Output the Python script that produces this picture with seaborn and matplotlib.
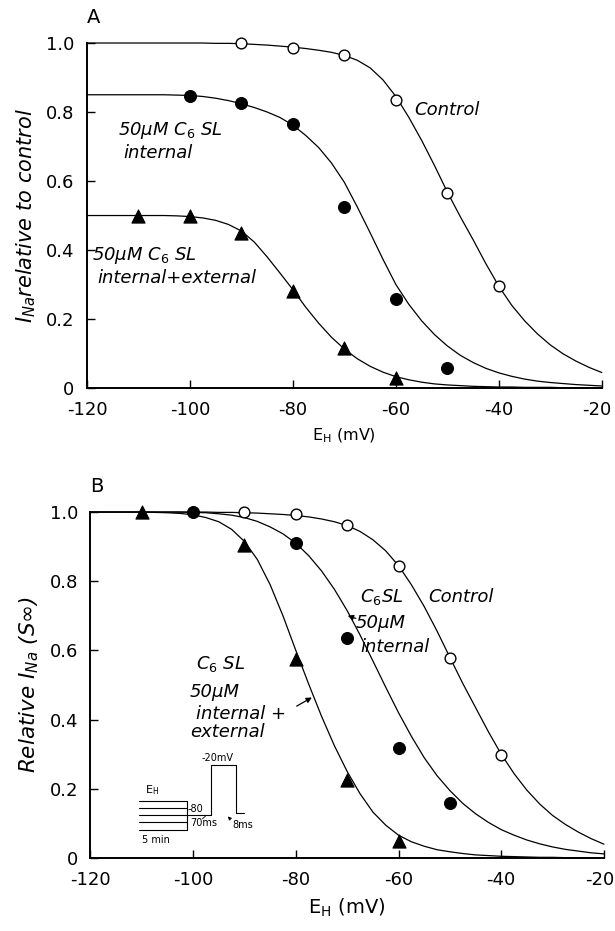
import numpy as np
import pandas as pd
import seaborn as sns
import matplotlib.pyplot as plt
import matplotlib.transforms as mtransforms

# fitted curves, read every 2.5 mV from -120 to -20
curve_e = [-120, -117.5, -115, -112.5, -110, -107.5, -105, -102.5, -100, -97.5,
           -95, -92.5, -90, -87.5, -85, -82.5, -80, -77.5, -75, -72.5,
           -70, -67.5, -65, -62.5, -60, -57.5, -55, -52.5, -50, -47.5,
           -45, -42.5, -40, -37.5, -35, -32.5, -30, -27.5, -25, -22.5, -20]

a_ctrl_fit = [1.000, 1.000, 1.000, 1.000, 1.000, 1.000, 1.000, 1.000, 1.000, 1.000,
              0.999, 0.999, 0.998, 0.996, 0.994, 0.991, 0.988, 0.984, 0.979, 0.973,
              0.964, 0.950, 0.928, 0.893, 0.845, 0.785, 0.718, 0.645, 0.568, 0.497,
              0.430, 0.360, 0.295, 0.240, 0.195, 0.157, 0.125, 0.099, 0.078, 0.060, 0.045]
a_int_fit = [0.850, 0.850, 0.850, 0.850, 0.850, 0.850, 0.850, 0.849, 0.848, 0.845,
             0.840, 0.833, 0.824, 0.813, 0.800, 0.784, 0.762, 0.732, 0.697, 0.652,
             0.596, 0.525, 0.450, 0.373, 0.300, 0.243, 0.195, 0.155, 0.122, 0.095,
             0.074, 0.057, 0.044, 0.034, 0.026, 0.020, 0.016, 0.013, 0.010, 0.008, 0.006]
a_both_fit = [0.500, 0.500, 0.500, 0.500, 0.500, 0.500, 0.500, 0.499, 0.497, 0.493,
              0.486, 0.474, 0.455, 0.423, 0.380, 0.333, 0.285, 0.234, 0.188, 0.147,
              0.113, 0.085, 0.063, 0.046, 0.033, 0.024, 0.017, 0.012, 0.009, 0.007,
              0.005, 0.004, 0.003, 0.003, 0.002, 0.002, 0.002, 0.001, 0.001, 0.001, 0.001]

b_ctrl_fit = [1.000, 1.000, 1.000, 1.000, 1.000, 1.000, 1.000, 1.000, 1.000, 1.000,
              0.999, 0.999, 0.998, 0.997, 0.995, 0.993, 0.990, 0.986, 0.980, 0.972,
              0.961, 0.944, 0.920, 0.888, 0.845, 0.790, 0.727, 0.656, 0.580, 0.505,
              0.435, 0.365, 0.300, 0.244, 0.196, 0.156, 0.123, 0.097, 0.075, 0.056, 0.040]
b_int_fit = [1.000, 1.000, 1.000, 1.000, 1.000, 1.000, 1.000, 1.000, 0.999, 0.998,
             0.995, 0.991, 0.984, 0.973, 0.957, 0.937, 0.910, 0.874, 0.830, 0.777,
             0.715, 0.645, 0.570, 0.494, 0.420, 0.352, 0.290, 0.238, 0.195, 0.158,
             0.128, 0.103, 0.082, 0.066, 0.052, 0.041, 0.032, 0.025, 0.020, 0.015, 0.012]
b_both_fit = [1.000, 1.000, 1.000, 1.000, 1.000, 0.999, 0.998, 0.996, 0.992, 0.984,
              0.972, 0.950, 0.915, 0.863, 0.790, 0.700, 0.600, 0.503, 0.410, 0.325,
              0.250, 0.186, 0.133, 0.095, 0.066, 0.047, 0.034, 0.024, 0.018, 0.013,
              0.009, 0.007, 0.005, 0.004, 0.003, 0.002, 0.002, 0.001, 0.001, 0.001, 0.001]

# measured points
a_ctrl_e = [-90, -80, -70, -60, -50, -40]
a_ctrl_y = [1.0, 0.985, 0.965, 0.835, 0.565, 0.295]
a_int_e = [-100, -90, -80, -70, -60, -50]
a_int_y = [0.845, 0.825, 0.765, 0.525, 0.258, 0.058]
a_both_e = [-110, -100, -90, -80, -70, -60]
a_both_y = [0.50, 0.50, 0.45, 0.28, 0.115, 0.03]

b_ctrl_e = [-90, -80, -70, -60, -50, -40]
b_ctrl_y = [1.0, 0.993, 0.962, 0.843, 0.579, 0.297]
b_int_e = [-100, -80, -70, -60, -50]
b_int_y = [1.0, 0.91, 0.635, 0.317, 0.16]
b_both_e = [-110, -90, -80, -70, -60]
b_both_y = [1.0, 0.905, 0.575, 0.226, 0.05]

x_ticks = [-120, -100, -80, -60, -40, -20]
y_ticks = [0, 0.2, 0.4, 0.6, 0.8, 1.0]
y_ticklabels = ['0', '0.2', '0.4', '0.6', '0.8', '1.0']

# pulse protocol sketch in panel B (drawn in data units)
proto_step_x = [-110.6, -101.2]
proto_step_y = [0.165, 0.145, 0.124, 0.104, 0.081]
proto_pulse_x = [-101.2, -96.5, -96.5, -91.7, -91.7, -90.1]
proto_pulse_y = [0.124, 0.124, 0.269, 0.269, 0.131, 0.131]

sns.set_style('ticks')
plt.rcParams['font.family'] = ['DejaVu Sans']
plt.rcParams['mathtext.fontset'] = 'dejavusans'
for k in ['text.color', 'axes.labelcolor', 'xtick.color', 'ytick.color', 'axes.edgecolor']:
    plt.rcParams[k] = 'black'

fig = plt.figure(figsize=(6.15, 9.31), dpi=100)
ax_a = fig.add_axes([0.1415, 0.5832, 0.837, 0.3706])
ax_b = fig.add_axes([0.147, 0.0784, 0.835, 0.3716])


def draw_panel(ax, fits, pts):
    for fit in fits:
        sns.lineplot(x=curve_e, y=fit, ax=ax, color='black', lw=0.9, clip_on=False)
    (ce, cy), (ie, iy), (be, by) = pts
    sns.scatterplot(x=ce, y=cy, ax=ax, marker='o', s=60, facecolor='white',
                    edgecolor='black', linewidth=1.0, clip_on=False, zorder=4)
    sns.scatterplot(x=ie, y=iy, ax=ax, marker='o', s=75, color='black',
                    edgecolor='black', clip_on=False, zorder=4)
    sns.scatterplot(x=be, y=by, ax=ax, marker='^', s=90, color='black',
                    edgecolor='black', clip_on=False, zorder=4)
    ax.set_xlim(-120, -20)
    ax.set_ylim(0, 1.0)
    ax.set_xticks(x_ticks)
    ax.set_xticklabels([str(t) for t in x_ticks])
    ax.set_yticks(y_ticks)
    ax.set_yticklabels(y_ticklabels)
    ax.tick_params(direction='in', length=6, width=1.0, labelsize=13, pad=9)
    sns.despine(ax=ax)
    for s in ['left', 'bottom']:
        ax.spines[s].set_linewidth(1.4)
    # last x label sits a little left of its tick, as in the print
    last = ax.get_xticklabels()[-1]
    last.set_horizontalalignment('right')
    last.set_transform(last.get_transform() +
                       mtransforms.ScaledTranslation(10 / 100, 0, fig.dpi_scale_trans))


draw_panel(ax_a, [a_ctrl_fit, a_int_fit, a_both_fit],
           [(a_ctrl_e, a_ctrl_y), (a_int_e, a_int_y), (a_both_e, a_both_y)])
draw_panel(ax_b, [b_ctrl_fit, b_int_fit, b_both_fit],
           [(b_ctrl_e, b_ctrl_y), (b_int_e, b_int_y), (b_both_e, b_both_y)])

# panel A text
ax_a.set_ylabel('$I_{Na}$relative to control', fontsize=15, style='italic', labelpad=6)
ax_a.set_xlabel('E$_\\mathregular{H}$ (mV)', fontsize=11.5, labelpad=6)
ax_a.text(-120, 1.075, 'A', fontsize=14, ha='left', va='center')
it = dict(fontsize=13, style='italic', va='center', ha='left')
ax_a.text(-56.5, 0.805, 'Control', **it)
ax_a.text(-114, 0.745, '50µM $C_6$ SL', **it)
ax_a.text(-113, 0.68, 'internal', **it)
ax_a.text(-119, 0.385, '50µM $C_6$ SL', **it)
ax_a.text(-118, 0.32, 'internal+external', **it)

# panel B text
ax_b.set_ylabel('Relative $I_{Na}$ (S∞)', fontsize=15.5, style='italic', labelpad=6)
ax_b.set_xlabel('E$_\\mathregular{H}$ (mV)', fontsize=14, labelpad=6)
ax_b.text(-120, 1.075, 'B', fontsize=14, ha='left', va='center')
ax_b.text(-67.5, 0.755, '$C_6$SL', **it)
ax_b.text(-54.2, 0.755, 'Control', **it)
ax_b.text(-68.3, 0.68, '50µM', **it)
ax_b.text(-67.5, 0.61, 'internal', **it)
ax_b.annotate('', xy=(-70.4, 0.703), xytext=(-67.8, 0.69),
              arrowprops=dict(arrowstyle='-|>', color='black', lw=0.9, mutation_scale=8))
ax_b.text(-99.5, 0.56, '$C_6$ SL', **it)
ax_b.text(-100.6, 0.48, '50µM', **it)
ax_b.text(-99.5, 0.415, 'internal +', **it)
ax_b.text(-100.6, 0.365, 'external', **it)
ax_b.annotate('', xy=(-76.4, 0.468), xytext=(-80.3, 0.435),
              arrowprops=dict(arrowstyle='-|>', color='black', lw=0.9, mutation_scale=8))

# protocol sketch
for lv in proto_step_y:
    ax_b.plot(proto_step_x, [lv, lv], color='black', lw=0.8)
ax_b.plot([proto_step_x[1]] * 2, [proto_step_y[-1], proto_step_y[0]], color='black', lw=0.8)
ax_b.plot(proto_pulse_x, proto_pulse_y, color='black', lw=0.8)
sm = dict(fontsize=7, ha='left', va='center')
ax_b.text(-109.4, 0.197, 'E$_\\mathregular{H}$', fontsize=8, ha='left', va='center')
ax_b.text(-101.0, 0.142, '-80', **sm)
ax_b.text(-98.4, 0.289, '-20mV', **sm)
ax_b.text(-100.6, 0.100, '70ms', **sm)
ax_b.text(-92.4, 0.096, '8ms', **sm)
ax_b.text(-110.0, 0.052, '5 min', **sm)
ax_b.annotate('', xy=(-97.2, 0.126), xytext=(-98.6, 0.108),
              arrowprops=dict(arrowstyle='-', color='black', lw=0.6))
ax_b.annotate('', xy=(-93.6, 0.126), xytext=(-92.6, 0.110),
              arrowprops=dict(arrowstyle='-|>', color='black', lw=0.6, mutation_scale=5))

fig.savefig('out.png', dpi=100)
